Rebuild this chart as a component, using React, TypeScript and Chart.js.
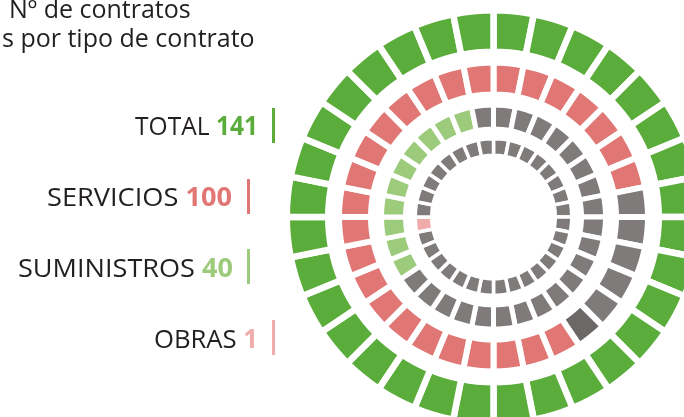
import React, { useEffect, useRef } from 'react';
import { Chart, registerables } from 'chart.js';

Chart.register(...registerables);

// ---- data ----
const categories = ['TOTAL', 'SERVICIOS', 'SUMINISTROS', 'OBRAS'];
const counts = [141, 100, 40, 1];
const titleLines = ['Nº de contratos', 's por tipo de contrato'];

// 32 equal segments per ring, clockwise from 12 o'clock.
// 1 = category colour, 0 = grey, 2 = dark grey
const totalSegments = [
  1, 1, 1, 1, 1, 1, 1, 1, 1, 1, 1, 1, 1, 1, 1, 1,
  1, 1, 1, 1, 1, 1, 1, 1, 1, 1, 1, 1, 1, 1, 1, 1,
];
const serviciosSegments = [
  1, 1, 1, 1, 1, 1, 1, 0, 0, 0, 0, 0, 2, 1, 1, 1,
  1, 1, 1, 1, 1, 1, 1, 1, 1, 1, 1, 1, 1, 1, 1, 1,
];
const suministrosSegments = [
  0, 0, 0, 0, 0, 0, 0, 0, 0, 0, 0, 0, 0, 0, 0, 0,
  0, 0, 0, 0, 0, 1, 1, 1, 1, 1, 1, 1, 1, 1, 1, 0,
];
const obrasSegments = [
  0, 0, 0, 0, 0, 0, 0, 0, 0, 0, 0, 0, 0, 0, 0, 0,
  0, 0, 0, 0, 0, 0, 0, 1, 0, 0, 0, 0, 0, 0, 0, 0,
];

const categoryColors = ['#5bad3b', '#e17774', '#9dcb7c', '#f0abab'];
const greyColor = '#807b7b';
const darkGreyColor = '#6d6868';

export default function App() {
  const canvasRef = useRef<HTMLCanvasElement | null>(null);

  useEffect(() => {
    const canvas = canvasRef.current;
    if (!canvas) return;

    const rings = [totalSegments, serviciosSegments, suministrosSegments, obrasSegments];
    const ringBorder = [6.5, 6, 5, 3.5];
    const ringWeight = [41.5, 32, 24, 16.5];
    const spacerWeight = [10.75, 10.5, 9.75];

    const datasets: any[] = [];
    rings.forEach((ring, i) => {
      datasets.push({
        label: categories[i],
        data: ring.map(() => 1),
        backgroundColor: ring.map((f) =>
          f === 1 ? categoryColors[i] : f === 2 ? darkGreyColor : greyColor
        ),
        borderColor: '#ffffff',
        borderWidth: ringBorder[i],
        borderAlign: 'center',
        weight: ringWeight[i],
        hoverOffset: 0,
      });
      if (i < spacerWeight.length) {
        datasets.push({
          label: 'spacer' + i,
          data: [1],
          backgroundColor: 'rgba(0,0,0,0)',
          borderWidth: 0,
          weight: spacerWeight[i],
          hoverOffset: 0,
        });
      }
    });

    const textPlugin = {
      id: 'labelsText',
      afterDraw(chart: any) {
        const ctx = chart.ctx as CanvasRenderingContext2D;
        ctx.save();
        ctx.textBaseline = 'alphabetic';
        // title
        ctx.fillStyle = '#231f20';
        ctx.font = '25px "Open Sans", sans-serif';
        ctx.textAlign = 'left';
        ctx.fillText(titleLines[0], 9, 18);
        ctx.fillText(titleLines[1], 2, 47);

        const rows = [
          { right: 258, width: 123, base: 135, barX: 272, barTop: 108, barBot: 143 },
          { right: 232, width: 185, base: 206, barX: 247, barTop: 179, barBot: 214 },
          { right: 233, width: 215, base: 277, barX: 247, barTop: 249, barBot: 284 },
          { right: 258, width: 104, base: 348, barX: 272, barTop: 320, barBot: 355 },
        ];
        const regFont = '26px "Open Sans", sans-serif';
        const boldFont = 'bold 26px "Open Sans", sans-serif';
        rows.forEach((r, i) => {
          const num = String(counts[i]);
          const lab = categories[i] + ' ';
          ctx.font = boldFont;
          const numW = ctx.measureText(num).width;
          ctx.font = regFont;
          const labW = ctx.measureText(lab).width;
          const s = r.width / (numW + labW);
          ctx.save();
          ctx.translate(r.right, r.base);
          ctx.scale(s, 1);
          ctx.textAlign = 'right';
          ctx.font = boldFont;
          ctx.fillStyle = categoryColors[i];
          ctx.fillText(num, 0, 0);
          ctx.font = regFont;
          ctx.fillStyle = '#231f20';
          ctx.fillText(lab, -numW, 0);
          ctx.restore();
          ctx.fillStyle = categoryColors[i];
          ctx.fillRect(r.barX, r.barTop, 3, r.barBot - r.barTop);
        });
        ctx.restore();
      },
    };

    const chart = new Chart(canvas, {
      type: 'doughnut',
      data: { labels: totalSegments.map((_, i) => 'S' + (i + 1)), datasets },
      options: {
        responsive: false,
        maintainAspectRatio: false,
        animation: false,
        events: [],
        radius: 206.75,
        cutout: '29.867%',
        layout: { padding: { left: 303, right: 0, top: 17, bottom: 0 } },
        plugins: {
          legend: { display: false },
          title: { display: false },
          tooltip: { enabled: false },
        },
      } as any,
      plugins: [textPlugin],
    });

    return () => {
      chart.destroy();
    };
  }, []);

  return (
    <div
      style={{
        position: 'fixed',
        left: 0,
        top: 0,
        width: 684,
        height: 417,
        overflow: 'hidden',
        background: '#ffffff',
      }}
    >
      <canvas ref={canvasRef} width={684} height={417} style={{ width: 684, height: 417, display: 'block' }} />
    </div>
  );
}
